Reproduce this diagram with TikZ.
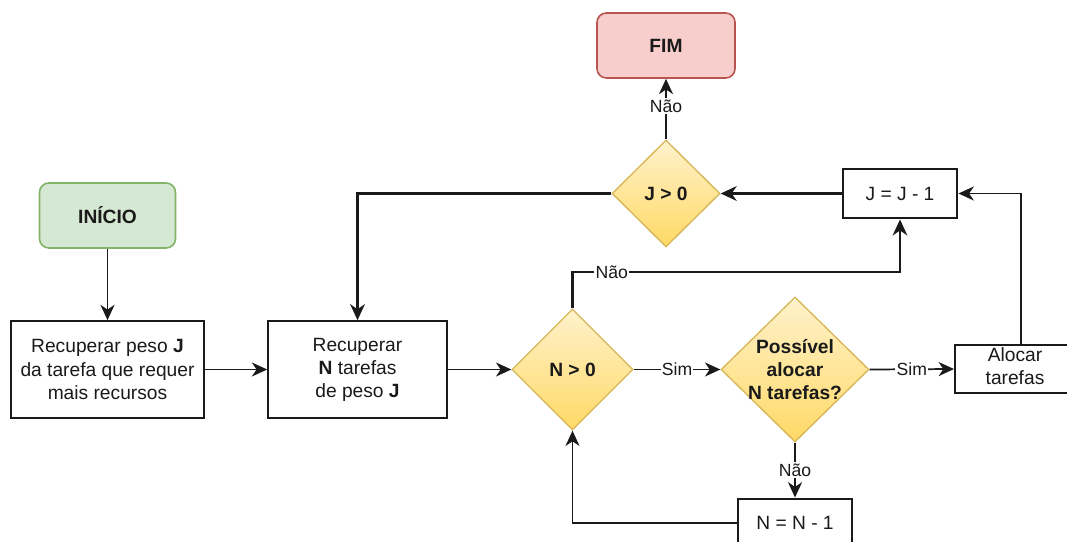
\documentclass[tikz,border=0pt]{standalone}
\usepackage{fontspec}
\setmainfont{Liberation Sans}
\usetikzlibrary{shapes.geometric,arrows.meta}
\definecolor{finfill}{HTML}{F8CECC}
\definecolor{findraw}{HTML}{B85450}
\definecolor{inifill}{HTML}{D5E8D4}
\definecolor{inidraw}{HTML}{82B366}
\definecolor{dectop}{HTML}{FFF2CC}
\definecolor{decbot}{HTML}{FFD966}
\definecolor{decdraw}{HTML}{D6B656}
\definecolor{ink}{HTML}{1A1A1A}
\begin{document}
\begin{tikzpicture}[x=0.75pt,y=-0.75pt,
  font=\fontsize{14.4}{17.3}\selectfont,
  every node/.style={text=ink},
  term/.style={rounded corners=7pt, line width=1.2pt, align=center, inner sep=0pt, font=\fontsize{14.4}{17.3}\selectfont\bfseries},
  procbox/.style={draw=ink, line width=1.2pt, fill=white, align=center, inner sep=0pt},
  heavybox/.style={draw=ink, line width=2.2pt, fill=white, align=center, inner sep=0pt},
  decision/.style={diamond, draw=decdraw, line width=1pt, top color=dectop, bottom color=decbot, inner sep=0pt},
  dectext/.style={align=center, font=\fontsize{14.4}{17.3}\selectfont\bfseries},
  conn/.style={draw=ink, line width=1.3pt, -{Stealth[length=11.5pt,width=10.5pt,inset=3.5pt]}},
  heavyconn/.style={draw=ink, line width=2.2pt, -{Stealth[length=12pt,width=11pt,inset=3.8pt]}},
  midconn/.style={draw=ink, line width=1.8pt, -{Stealth[length=12pt,width=11pt,inset=3.8pt]}},
  lbl/.style={fill=white, inner sep=1pt, font=\fontsize{13.2}{15}\selectfont}
]
\useasboundingbox (0,0) rectangle (1067,542);

% nodes
\node[term, draw=findraw, fill=finfill, minimum width=103.5pt, minimum height=48.75pt] (fim) at (666,45.5) {FIM};
\node[term, draw=inidraw, fill=inifill, minimum width=102pt, minimum height=48.75pt] (ini) at (107.5,215.5) {INÍCIO};
\node[procbox, minimum width=144.75pt, minimum height=72.75pt] (rec1) at (107.5,369.5) {Recuperar peso \textbf{J}\\da tarefa que requer\\mais recursos};
\node[procbox, minimum width=134.25pt, minimum height=72.75pt] (rec2) at (357.5,369.5) {Recuperar\\\textbf{N} tarefas\\de peso \textbf{J}};
\node[decision, minimum width=81pt, minimum height=80.25pt] (jdec) at (666,193.5) {};
\node[dectext] at (jdec.center) {J > 0};
\node[decision, minimum width=90.75pt, minimum height=90.75pt] (ndec) at (572.5,369.5) {};
\node[dectext] at (ndec.center) {N > 0};
\node[decision, minimum width=111pt, minimum height=108.75pt] (pdec) at (795,369.5) {};
\node[dectext] at (pdec.center) {Possível\\alocar\\N tarefas?};
\node[heavybox, minimum width=85.5pt, minimum height=36.75pt] (jm) at (900,193.5) {J = J - 1};
\node[procbox, line width=1.5pt, minimum width=90pt, minimum height=36pt] (aloc) at (1015,369) {};
\node[align=center, inner sep=0pt] at (1015,366) {Alocar\\tarefas};
\node[heavybox, minimum width=85.5pt, minimum height=36pt] (nm) at (795,523) {N = N - 1};

% helper coordinates
\coordinate (c1) at (572.5,272);
\coordinate (c2) at (900,272);
\coordinate (c3) at (1021,193.5);

% connectors
\draw[conn] (ini.south) -- (rec1.north);
\draw[conn] (rec1.east) -- (rec2.west);
\draw[conn] (rec2.east) -- (ndec.west);
\draw[conn] (ndec.east) -- node[lbl]{Sim} (pdec.west);
\draw[conn] (pdec.east) -- node[lbl]{Sim} (aloc.west);
\draw[conn] (pdec.south) -- node[lbl]{Não} (nm.north);
\draw[conn] (nm.west) -| (ndec.south);
\draw[midconn] (ndec.north) -- (c1) -- node[lbl, pos=0.12]{Não} (c2) -- (jm.south);
\draw[heavyconn] (jm.west) -- (jdec.east);
\draw[heavyconn] (jdec.west) -| (rec2.north);
\draw[conn] (jdec.north) -- node[lbl, pos=0.55]{Não} (fim.south);
\draw[conn] (aloc.north -| c3) -- (c3) -- (jm.east);
\end{tikzpicture}
\end{document}
